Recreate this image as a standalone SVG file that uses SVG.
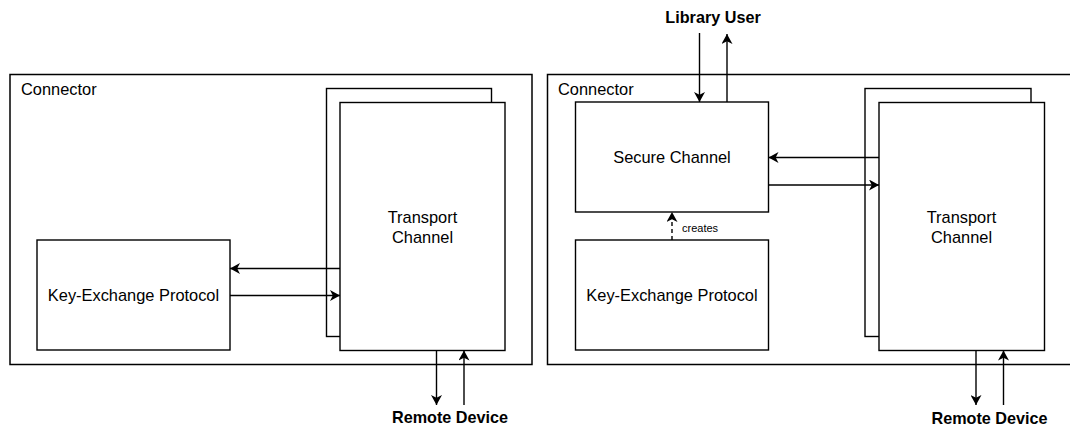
<svg xmlns="http://www.w3.org/2000/svg" width="1070" height="429" viewBox="0 0 1070 429">
  <style>
    .box { fill: #ffffff; stroke: #000000; stroke-width: 1.4; }
    .frame { fill: #ffffff; stroke: #000000; stroke-width: 1.5; }
    .lbl { font-family: "Liberation Sans", Arial, sans-serif; font-size: 16.4px; fill: #000000; }
    .mid { text-anchor: middle; }
    .ext { font-family: "Liberation Sans", Arial, sans-serif; font-size: 16.2px; font-weight: bold; fill: #000000; text-anchor: middle; }
    .small { font-family: "Liberation Sans", Arial, sans-serif; font-size: 11px; fill: #000000; }
    .edge { fill: none; stroke: #000000; stroke-width: 1.4; }
    .dash { stroke-dasharray: 4 3; }
  </style>
  <defs>
    <marker id="arrow" viewBox="0 0 10 11" refX="10" refY="5.5" markerWidth="10" markerHeight="11" markerUnits="userSpaceOnUse" orient="auto">
      <path d="M10,5.5 L0,0 L2.8,5.5 L0,11 Z" fill="#000000"/>
    </marker>
  </defs>
  <rect width="1070" height="429" fill="#ffffff"/>

  <!-- left connector -->
  <g id="connector-left">
    <rect class="frame" x="10" y="74.5" width="522" height="290"/>
    <text class="lbl" x="21" y="95">Connector</text>
  </g>
  <g id="transport-left-back">
    <rect class="box" x="326.5" y="88.5" width="165" height="248"/>
  </g>
  <g id="transport-left">
    <rect class="box" x="340" y="102.5" width="165" height="248"/>
    <text class="lbl mid" x="422.5" y="223">Transport</text>
    <text class="lbl mid" x="422.5" y="242.5">Channel</text>
  </g>
  <g id="kex-left">
    <rect class="box" x="37" y="240" width="193" height="110"/>
    <text class="lbl mid" x="133.5" y="301">Key-Exchange Protocol</text>
  </g>

  <!-- right connector -->
  <g id="connector-right">
    <rect class="frame" x="547.5" y="74.5" width="530" height="290"/>
    <text class="lbl" x="558" y="95">Connector</text>
  </g>
  <g id="secure-channel">
    <rect class="box" x="575.5" y="102" width="193" height="110"/>
    <text class="lbl mid" x="672" y="163">Secure Channel</text>
  </g>
  <g id="kex-right">
    <rect class="box" x="575.5" y="240" width="193" height="110"/>
    <text class="lbl mid" x="672" y="301">Key-Exchange Protocol</text>
  </g>
  <g id="transport-right-back">
    <rect class="box" x="865" y="88.5" width="166" height="248"/>
  </g>
  <g id="transport-right">
    <rect class="box" x="879" y="102.5" width="165.5" height="248"/>
    <text class="lbl mid" x="961.5" y="223">Transport</text>
    <text class="lbl mid" x="961.5" y="242.5">Channel</text>
  </g>

  <!-- external endpoints -->
  <g id="library-user">
    <text class="ext" x="713" y="23">Library User</text>
  </g>
  <g id="remote-left">
    <text class="ext" x="450" y="423">Remote Device</text>
  </g>
  <g id="remote-right">
    <text class="ext" x="989.5" y="424">Remote Device</text>
  </g>

  <!-- connectors -->
  <g id="edges">
    <path class="edge" d="M340,268.5 L230,268.5" marker-end="url(#arrow)"/>
    <path class="edge" d="M230,295.5 L340,295.5" marker-end="url(#arrow)"/>
    <path class="edge" d="M436.5,350.5 L436.5,405" marker-end="url(#arrow)"/>
    <path class="edge" d="M464,405 L464,350.5" marker-end="url(#arrow)"/>

    <path class="edge" d="M699.5,33 L699.5,102" marker-end="url(#arrow)"/>
    <path class="edge" d="M727,102 L727,34" marker-end="url(#arrow)"/>
    <path class="edge" d="M879,157.5 L768.5,157.5" marker-end="url(#arrow)"/>
    <path class="edge" d="M768.5,185 L879,185" marker-end="url(#arrow)"/>
    <path class="edge dash" d="M672,240 L672,212" marker-end="url(#arrow)"/>
    <text class="small" x="682" y="232">creates</text>
    <path class="edge" d="M976,350.5 L976,405" marker-end="url(#arrow)"/>
    <path class="edge" d="M1003.5,405 L1003.5,350.5" marker-end="url(#arrow)"/>
  </g>
</svg>
